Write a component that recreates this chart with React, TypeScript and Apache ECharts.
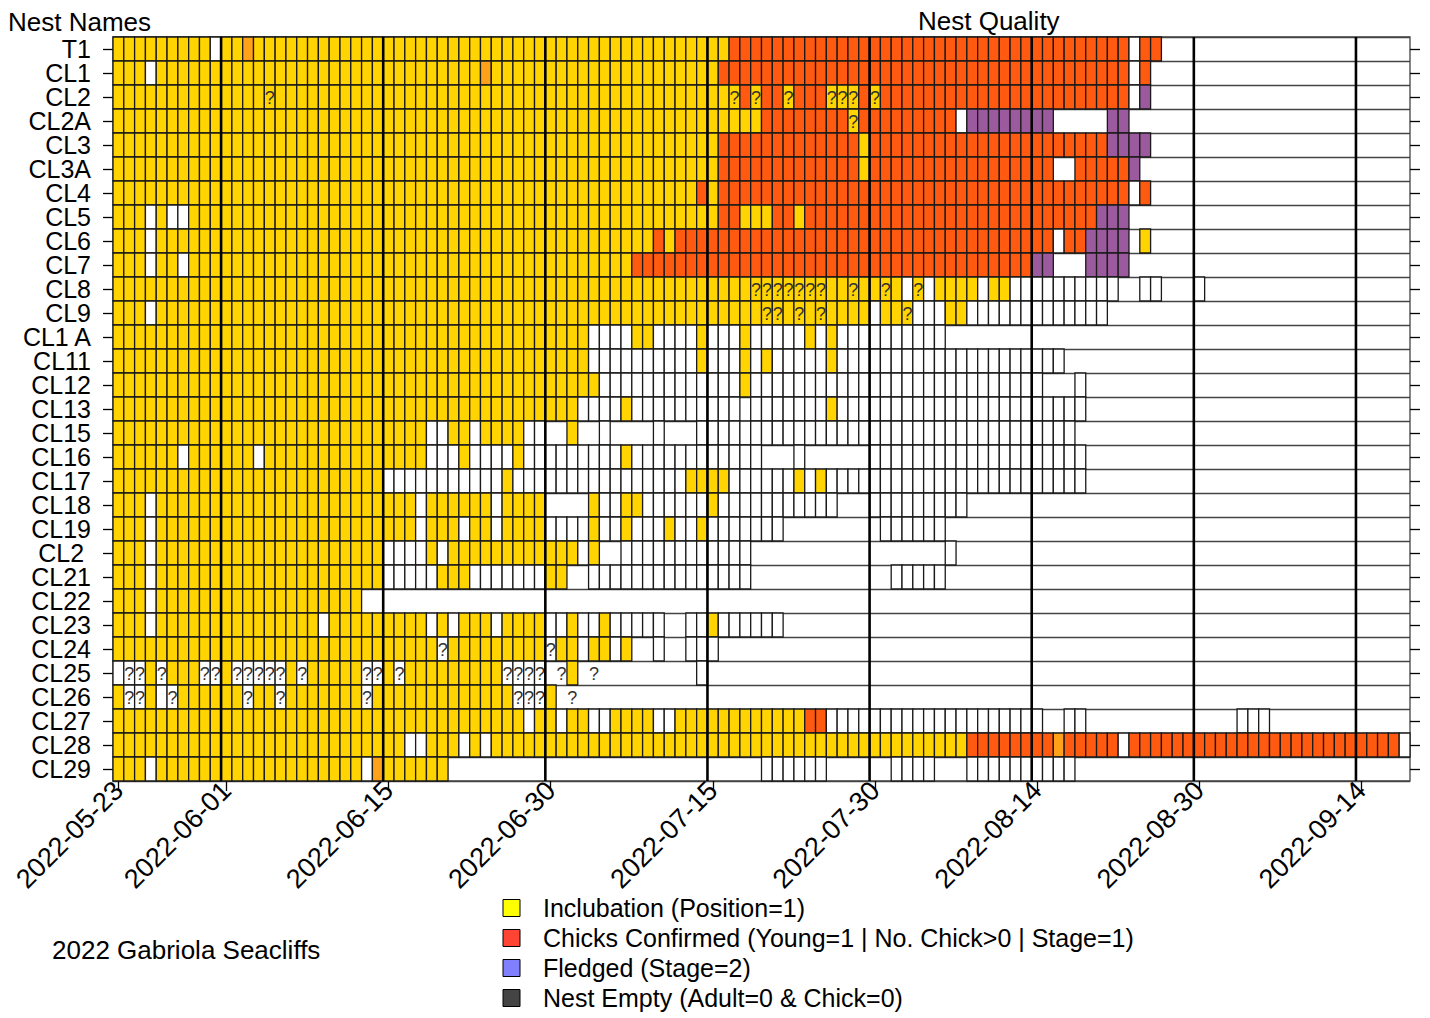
import React, { useEffect, useRef } from 'react';
import * as echarts from 'echarts';

// ---------- data ----------
const nests = ['T1', 'CL1', 'CL2', 'CL2A', 'CL3', 'CL3A', 'CL4', 'CL5', 'CL6', 'CL7', 'CL8', 'CL9', 'CL1 A', 'CL11', 'CL12', 'CL13', 'CL15', 'CL16', 'CL17', 'CL18', 'CL19', 'CL2 ', 'CL21', 'CL22', 'CL23', 'CL24', 'CL25', 'CL26', 'CL27', 'CL28', 'CL29'];

const nColumns = 120;
const dateTickIdx = [0, 10, 25, 40, 55, 70, 85, 100, 115];
const dateTickLabels = ['2022-05-23', '2022-06-01', '2022-06-15', '2022-06-30', '2022-07-15', '2022-07-30', '2022-08-14', '2022-08-30', '2022-09-14'];

// Observed state per nest per column, run-length encoded.
// Y incubation, R chicks, P fledged, O orange (mixed), W empty/none observed,
// Q incubation with "?", q empty with "?", x "?" only, . no record
const nestRuns = [
  'Y9 W1 Y2 O1 Y44 R37 W1 R2 .23',
  'Y3 W1 Y30 O1 Y21 R38 W1 R1 .24',
  'Y14 Q1 Y42 Q1 R1 Q1 R2 Q1 R3 Q3 R1 Q1 R23 W1 P1 .24',
  'Y60 R8 Q1 R9 W1 P8 .5 P2 .26',
  'Y56 R13 Y1 R22 P4 .24',
  'Y56 R13 Y1 R17 .2 R5 P1 .25',
  'Y54 R1 Y1 R38 W1 R1 .24',
  'Y3 W1 Y1 W2 Y49 R2 Y3 R2 Y1 R27 P3 .26',
  'Y3 W1 Y46 R1 Y1 R35 W1 R2 P4 .1 Y1 .24',
  'Y3 W1 Y2 W1 Y41 R37 P2 .3 P4 .26',
  'Y59 Q7 Y2 Q1 Y2 Q1 Y1 W1 Q1 W1 Y4 W1 Y2 W10 .2 W2 .3 W1 .19',
  'Y3 W1 Y56 Q2 Y1 Q1 Y1 Q1 Y4 W1 Y2 Q1 W3 Y2 W13 .28',
  'Y44 W4 Y2 W4 Y1 W3 Y1 W5 Y1 W1 Y1 W10 .43',
  'Y44 W10 Y1 W3 Y1 W1 Y1 W5 Y1 W21 .32',
  'Y45 W13 Y1 W27 .3 W1 .30',
  'Y43 W4 Y1 W10 .1 W7 Y1 W23 .30',
  'Y29 W2 Y2 W1 Y4 W2 .2 Y1 .2 W1 .4 W1 .3 W35 .31',
  'Y6 W1 Y6 W1 Y15 W3 Y1 W4 Y1 W9 Y1 W12 .3 W1 .6 W20 .30',
  'Y25 W11 Y1 W16 Y4 W6 Y1 W1 Y1 W24 .30',
  'Y3 W1 Y24 W1 Y6 W1 Y4 .4 Y1 W2 Y2 W6 Y1 W11 .3 W9 .41',
  'Y3 W1 Y24 W1 Y3 W1 Y2 W1 Y4 W4 Y1 W2 Y1 W3 Y1 W2 Y1 W7 .9 W6 .43',
  'Y3 W1 Y21 W4 Y1 W1 Y12 W1 Y1 .2 W12 .18 W1 .42',
  'Y3 W1 Y21 W5 Y3 W7 Y2 .2 W15 .13 W5 .43',
  'Y3 W1 Y19 .97',
  'Y3 W1 Y15 W1 Y9 W1 Y1 W1 Y3 W1 Y4 W2 Y1 W2 Y1 W5 .2 W2 Y1 W6 .58',
  'Y30 q1 Y9 q1 Y2 W1 Y2 W1 Y1 .2 W1 .2 W3 .64',
  'W1 q2 Y1 q1 Y3 q2 Y1 q5 Y1 q1 Y5 q2 Y1 q1 Y9 q4 .1 x1 Y1 .1 x1 .9 W1 .65',
  'Y1 q2 Y1 W1 q1 Y6 q1 Y2 q1 Y7 q1 Y13 q3 Y1 .1 x1 .77',
  'Y38 W1 Y2 W1 Y2 W2 Y4 W2 Y12 R2 W20 .2 W2 .14 W3 .13',
  'Y27 W2 Y3 W1 Y1 W1 Y44 R8 O1 R5 W1 R25 W1',
  'Y3 W1 Y19 W1 O1 Y6 .29 W6 .6 W4 .3 W10 .31',
];

const stateCodes = ['Y', 'R', 'P', 'O', 'W', 'Q', 'q', 'x'];

const legendLabels = [
  'Inclubation (Position=1)',
  'Chicks Confirmed (Young=1 | No. Chick>0 | Stage=1)',
  'Fledged (Stage=2)',
  'Nest Empty (Adult=0 & Chick=0)',
];

// ---------- styles ----------
const FONT = "'Liberation Sans', Arial, Helvetica, sans-serif";
const stateStyle: Record<string, { fill: string | null; q: boolean }> = {
  Y: { fill: '#FFD400', q: false },
  R: { fill: '#FF5A10', q: false },
  P: { fill: '#9C5A9E', q: false },
  O: { fill: '#FFA21A', q: false },
  W: { fill: '#FFFFFF', q: false },
  Q: { fill: '#FFD400', q: true },
  q: { fill: '#FFFFFF', q: true },
  x: { fill: null, q: true },
};
const legendColors = ['#FFFF00', '#FF4433', '#8080FF', '#444444'];

function buildCells() {
  const cells: number[][] = [];
  nestRuns.forEach((runs, row) => {
    let col = 0;
    runs.split(' ').forEach((tok) => {
      const code = tok[0];
      const n = parseInt(tok.slice(1), 10);
      for (let k = 0; k < n; k++) {
        const si = stateCodes.indexOf(code);
        if (si >= 0 && col < nColumns) cells.push([col, row, si]);
        col++;
      }
    });
  });
  return cells;
}

export default function App() {
  const ref = useRef<HTMLDivElement>(null);
  useEffect(() => {
    if (!ref.current) return;
    const chart = echarts.init(ref.current, undefined, { renderer: 'svg' });
    const categories = Array.from({ length: nColumns }, (_, i) => String(i));
    const labelMap: Record<number, string> = {};
    dateTickIdx.forEach((idx, k) => (labelMap[idx] = dateTickLabels[k]));
    const cells = buildCells();

    const graphics: any[] = [
      { type: 'text', left: 8, top: 9, style: { text: 'Nest Names', fontSize: 26, fontFamily: FONT, fill: '#000' } },
      { type: 'text', left: 918, top: 8, style: { text: 'Nest Quality', fontSize: 26, fontFamily: FONT, fill: '#000' } },
      { type: 'text', left: 52, top: 937, style: { text: '2022 Gabriola Seacliffs', fontSize: 26, fontFamily: FONT, fill: '#000' } },
    ];
    legendLabels.forEach((lab, i) => {
      const cy = 908 + i * 30;
      graphics.push({ type: 'rect', shape: { x: 503, y: cy - 8.5, width: 17, height: 17 }, style: { fill: legendColors[i], stroke: '#000', lineWidth: 1 } });
      graphics.push({ type: 'text', x: 543, y: cy, style: { text: lab, fontSize: 25, fontFamily: FONT, fill: '#000', verticalAlign: 'middle' } });
    });

    chart.setOption({
      animation: false,
      backgroundColor: '#ffffff',
      textStyle: { fontFamily: FONT },
      grid: { left: 113, top: 37, width: 1297, height: 744, show: true, borderColor: '#444', borderWidth: 1.3, backgroundColor: 'transparent', outerBoundsMode: 'none' },
      xAxis: {
        type: 'category',
        data: categories,
        boundaryGap: true,
        axisLine: { show: false },
        axisTick: { show: true, alignWithLabel: true, length: 10, interval: (i: number) => labelMap[i] !== undefined, lineStyle: { color: '#000', width: 1.3 } },
        axisLabel: {
          interval: (i: number) => labelMap[i] !== undefined,
          formatter: (_v: string, i: number) => labelMap[i] ?? '',
          rotate: 45, fontSize: 27, color: '#000', margin: 5, fontFamily: FONT,
        },
        splitLine: { show: false },
      },
      yAxis: [
        {
          type: 'category', data: nests, inverse: true, boundaryGap: true,
          axisLine: { show: false },
          axisTick: { show: true, alignWithLabel: true, length: 10, interval: 0, lineStyle: { color: '#000', width: 1.3 } },
          axisLabel: { interval: 0, fontSize: 25, lineHeight: 22, color: '#000', margin: 22, fontFamily: FONT },
          splitLine: { show: true, interval: 0, lineStyle: { color: '#444', width: 1.3 } },
        },
        {
          type: 'category', data: nests, inverse: true, boundaryGap: true, position: 'right',
          axisLine: { show: false },
          axisTick: { show: true, alignWithLabel: true, length: 10, interval: 0, lineStyle: { color: '#000', width: 1.3 } },
          axisLabel: { show: false },
          splitLine: { show: false },
        },
      ],
      graphic: graphics,
      series: [
        {
          type: 'custom',
          name: 'cells',
          coordinateSystem: 'cartesian2d',
          xAxisIndex: 0, yAxisIndex: 0,
          encode: { x: 0, y: 1 },
          data: cells,
          z: 2,
          renderItem: (params: any, api: any) => {
            const col = api.value(0);
            const row = api.value(1);
            const st = stateStyle[stateCodes[api.value(2)]];
            const c = api.coord([col, row]);
            const s = api.size([1, 1]);
            const w = s[0], h = s[1];
            const children: any[] = [];
            if (st.fill) {
              children.push({ type: 'rect', shape: { x: c[0] - w / 2, y: c[1] - h / 2, width: w, height: h }, style: { fill: st.fill, stroke: '#1a1a1a', lineWidth: 1.3 } });
            }
            if (st.q) {
              children.push({ type: 'text', style: { text: '?', x: c[0], y: c[1] + 1, align: 'center', verticalAlign: 'middle', fontSize: 18, fontFamily: FONT, fill: '#333' } });
            }
            return { type: 'group', children };
          },
        },
        {
          type: 'custom',
          name: 'dateLines',
          coordinateSystem: 'cartesian2d',
          xAxisIndex: 0, yAxisIndex: 0,
          encode: { x: 0, y: 1 },
          data: dateTickIdx.slice(1).map((i) => [i, 0]),
          z: 5,
          renderItem: (params: any, api: any) => {
            const c = api.coord([api.value(0), 0]);
            const w = api.size([1, 1])[0];
            const cs = params.coordSys;
            const x = c[0] - w / 2;
            return { type: 'line', shape: { x1: x, y1: cs.y, x2: x, y2: cs.y + cs.height }, style: { stroke: '#000', lineWidth: 2.6 } };
          },
        },
      ],
    });
    return () => chart.dispose();
  }, []);
  return <div ref={ref} style={{ position: 'absolute', left: 0, top: 0, width: 1430, height: 1018 }} />;
}
